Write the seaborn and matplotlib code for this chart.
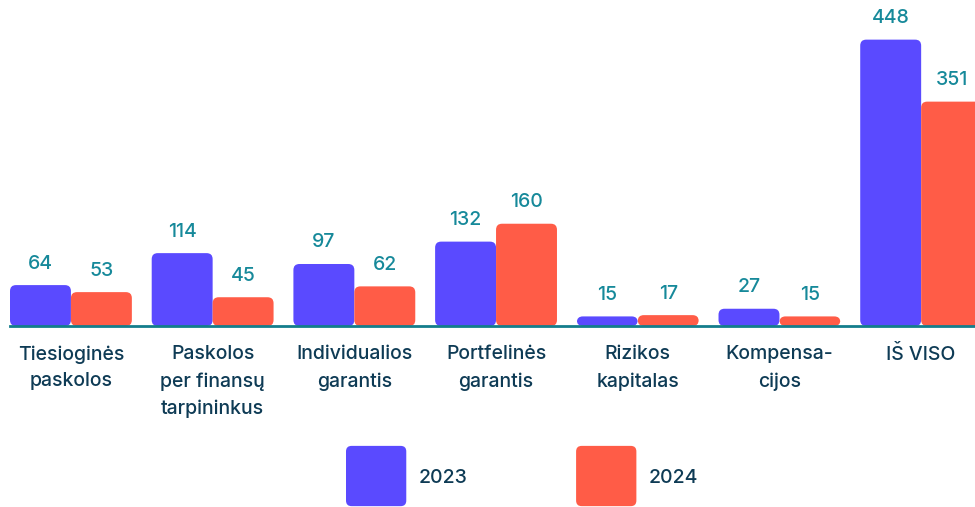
import pandas as pd
import matplotlib.pyplot as plt
import seaborn as sns
from matplotlib.patches import FancyBboxPatch, Patch
from matplotlib.legend_handler import HandlerPatch

# data
categories = ["Tiesioginės\npaskolos", "Paskolos\nper finansų\ntarpininkus",
              "Individualios\ngarantis", "Portfelinės\ngarantis",
              "Rizikos\nkapitalas", "Kompensa-\ncijos", "IŠ VISO"]
years = ["2023", "2024"]
values_2023 = [64, 114, 97, 132, 15, 27, 448]
values_2024 = [53, 45, 62, 160, 17, 15, 351]

blue = "#5A4AFF"
red = "#FF5C47"
teal = "#16899A"
navy = "#0E3B55"

df = pd.DataFrame({
    "Kategorija": categories * 2,
    "Metai": [years[0]] * len(categories) + [years[1]] * len(categories),
    "Reikšmė": values_2023 + values_2024,
})

sns.set_style("white")
plt.rcParams["font.family"] = ["Inter", "DejaVu Sans"]
plt.rcParams["font.weight"] = "medium"

fig = plt.figure(figsize=(9.75, 5.07), dpi=100)
ax = fig.add_axes([10 / 975, 1 - 326 / 507, 965 / 975, 326 / 507])

sns.barplot(data=df, x="Kategorija", y="Reikšmė", hue="Metai",
            palette=[blue, red], width=0.86, gap=0, saturation=1,
            legend=False, ax=ax)

for cont in ax.containers:
    ax.bar_label(cont, padding=9, fontsize=14, color=teal, fontweight="medium")

# rounded bars
ax.set_xlim(-0.43, 6.38)
ax.set_ylim(0, 510)
px_x = 965 / 6.81
px_y = 326 / 510
r = 6
for p in list(ax.patches):
    x, y = p.get_x(), p.get_y()
    w, h = p.get_width(), p.get_height()
    fb = FancyBboxPatch((x, y), w, h,
                        boxstyle=f"round,pad=0,rounding_size={r / px_x}",
                        mutation_aspect=px_x / px_y,
                        facecolor=p.get_facecolor(), edgecolor="none", zorder=2)
    p.set_visible(False)
    ax.add_patch(fb)

for s in ["top", "left", "right"]:
    ax.spines[s].set_visible(False)
ax.spines["bottom"].set_color("#137D8C")
ax.spines["bottom"].set_linewidth(2)
ax.spines["bottom"].set_zorder(3)
ax.set_yticks([])
ax.set_xlabel("")
ax.set_ylabel("")
ax.tick_params(axis="x", length=0, pad=14, labelsize=14, labelcolor=navy)
for t in ax.get_xticklabels():
    t.set_linespacing(1.6)
    t.set_fontweight("medium")


def square_handle(legend, orig_handle, xdescent, ydescent, width, height, fontsize):
    cy = -ydescent + height / 2
    return FancyBboxPatch((-xdescent, cy - width / 2), width, width,
                          boxstyle="round,pad=0,rounding_size=4")


handles = [Patch(facecolor=blue, edgecolor="none"), Patch(facecolor=red, edgecolor="none")]
fig.legend(handles, years, loc="center left", bbox_to_anchor=(346 / 975, 1 - 477 / 507),
           ncol=2, frameon=False, fontsize=14, labelcolor=navy,
           handlelength=3.1, handleheight=1.0, handletextpad=0.62,
           columnspacing=5.6, borderpad=0, borderaxespad=0,
           handler_map={Patch: HandlerPatch(patch_func=square_handle)})

fig.savefig("out.png", dpi=100)
